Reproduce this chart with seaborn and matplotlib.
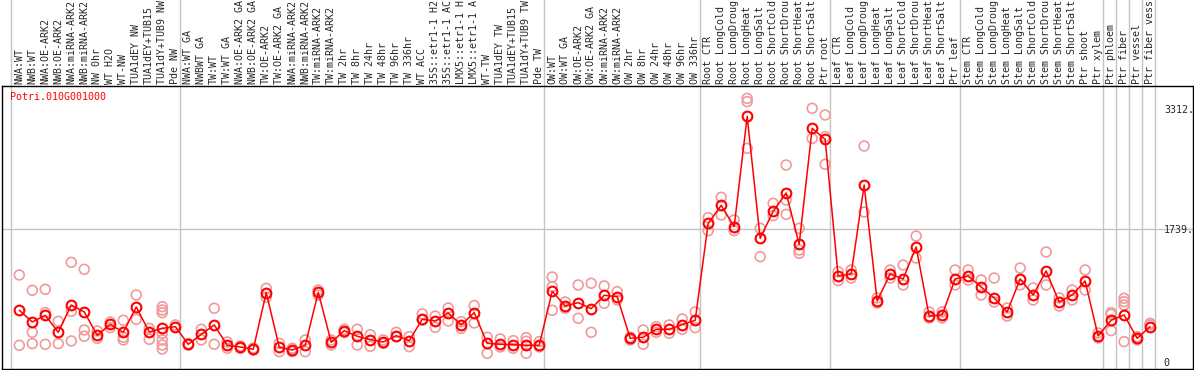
import pandas as pd
import matplotlib
matplotlib.use("Agg")
import matplotlib.pyplot as plt
import seaborn as sns

# ------------------------------
# data
# ------------------------------
gene = "Potri.010G001000"

labels = [
    "NWA:WT", "NWB:WT", "NWA:OE-ARK2", "NWB:OE-ARK2", "NWA:miRNA-ARK2", "NWB:miRNA-ARK2",
    "NW 0hr", "WT H2O", "WT-NW", "TUA1dEY NW", "TUA1dEY+TUB15", "TUA1dY+TUB9 NW", "Pde NW",
    "NWA:WT GA", "NWBWT GA", "TW:WT", "TW:WT GA", "NWA:OE-ARK2 GA", "NWB:OE-ARK2 GA",
    "TW:OE-ARK2", "TW:OE-ARK2 GA", "NWA:miRNA-ARK2", "NWB:miRNA-ARK2", "TW:miRNA-ARK2",
    "TW:miRNA-ARK2", "TW 2hr", "TW 8hr", "TW 24hr", "TW 48hr", "TW 96hr", "TW 336hr",
    "WT ACC", "35S::etr1-1 H2", "35S::etr1-1 AC", "LMX5::etr1-1 H", "LMX5::etr1-1 A",
    "WT-TW", "TUA1dEY TW", "TUA1dEY+TUB15", "TUA1dY+TUB9 TW", "Pde TW",
    "OW:WT", "OW:WT GA", "OW:OE-ARK2", "OW:OE-ARK2 GA", "OW:miRNA-ARK2", "OW:miRNA-ARK2",
    "OW 2hr", "OW 8hr", "OW 24hr", "OW 48hr", "OW 96hr", "OW 336hr",
    "Root CTR", "Root LongCold", "Root LongDroug", "Root LongHeat", "Root LongSalt",
    "Root ShortCold", "Root ShortDrou", "Root ShortHeat", "Root ShortSalt", "Ptr root",
    "Leaf CTR", "Leaf LongCold", "Leaf LongDroug", "Leaf LongHeat", "Leaf LongSalt",
    "Leaf ShortCold", "Leaf ShortDrou", "Leaf ShortHeat", "Leaf ShortSalt", "Ptr leaf",
    "Stem CTR", "Stem LongCold", "Stem LongDroug", "Stem LongHeat", "Stem LongSalt",
    "Stem ShortCold", "Stem ShortDrou", "Stem ShortHeat", "Stem ShortSalt", "Ptr shoot",
    "Ptr xylem", "Ptr phloem", "Ptr fiber", "Ptr vessel", "Ptr fiber vess",
]

# number of samples in each study block (separated by grey lines)
group_sizes = [13, 28, 12, 10, 10, 11, 1, 1, 1, 1]

means = [
    676, 523, 610, 388, 745, 654, 349, 492, 388, 719, 392, 440, 462,
    231, 362, 484, 218, 196, 166, 907, 192, 157, 218, 911, 257, 410, 336, 292,
    261, 344, 279, 558, 536, 641, 484, 645, 244, 231, 227, 218, 218,
    924, 732, 776, 697, 872, 854, 309, 323, 427, 427, 488, 545,
    1813, 2048, 1770, 3212, 1617, 1970, 2210, 1539, 3055, 2911,
    1124, 1151, 2314, 798, 1151, 1085, 1504, 601, 615, 1085,
    1124, 981, 837, 654, 1085, 876, 1190, 785, 876, 1059,
    340, 545, 615, 309, 462,
]

reps = [
    [1138, 218], [937, 388, 240], [950, 645, 231], [532, 240], [1303, 662, 275],
    [1212, 418, 336], [405, 309], [523, 449], [545, 323, 288], [876, 558],
    [440, 296], [723, 680, 645, 375, 288, 222, 170], [484],
    [240, 222], [427, 288], [702, 231], [261, 179], [209, 179], [183, 157],
    [963, 846], [244, 135], [179, 135], [288, 135], [941, 876], [288, 222],
    [427, 384], [427, 222], [357, 205], [288, 244], [388, 331], [331, 200],
    [628, 549], [601, 453], [706, 536], [527, 440], [737, 510], [323, 113],
    [301, 196], [279, 179], [318, 270, 113], [266, 196],
    [1111, 985, 676], [785, 702], [1007, 571], [1029, 388], [994, 767], [920, 811],
    [323, 288], [418, 231], [462, 388], [484, 375], [562, 427], [654, 449],
    [1887, 1717], [2153, 1922], [1857, 1717], [3447, 3404, 2794], [1748, 1377],
    [2075, 1913], [2576, 2118, 1931], [1748, 1464, 1421], [3317, 2924],
    [3230, 2946, 2585],
    [1181, 1063], [1203, 1098], [2824, 1961], [837, 771], [1203, 1098],
    [1268, 1007], [1647, 1360], [654, 575], [654, 575], [1203, 1007],
    [1203, 1072], [1072, 876], [1098, 785], [706, 601], [1229, 1007],
    [968, 811], [1438, 1007], [837, 732], [941, 811], [1203, 941],
    [379, 314], [645, 623, 410], [832, 789, 745, 266], [331, 288], [506, 484],
]

y_ticks = [0, 1739, 3312]
y_tick_labels = ["0", "1739.", "3312."]

# ------------------------------
# build tables
# ------------------------------
mean_df = pd.DataFrame({"sample": range(len(means)), "value": means})
rep_df = pd.DataFrame(
    [(i, v) for i, vals in enumerate(reps) for v in vals], columns=["sample", "value"]
)

# ------------------------------
# plot
# ------------------------------
sns.set_theme(style="white")
plt.rcParams["font.family"] = ["DejaVu Sans Mono"]

fig = plt.figure(figsize=(11.94, 3.70), dpi=100)
ax = fig.add_axes([2 / 1194, 1 / 370, 1191 / 1194, 283 / 370])

grey = "#c4c4c4"

# group separators, running up through the label strip
edge = -0.5
for size in [0] + group_sizes:
    edge += size
    ax.axvline(edge - 0.13, ymin=0, ymax=1.31, color=grey, lw=1, clip_on=False, zorder=0)

ax.axhline(y_ticks[1], color=grey, lw=1, zorder=0)

sns.scatterplot(data=rep_df, x="sample", y="value", ax=ax, marker="o", s=50,
                facecolor="none", edgecolor="#f09a9a", linewidth=1.2, zorder=2)
sns.lineplot(data=mean_df, x="sample", y="value", ax=ax, color="#ff0000", lw=1.1,
             marker="o", markersize=7, markerfacecolor="none",
             markeredgecolor="#ff0000", markeredgewidth=1.5, zorder=3)

ax.set_xlim(-1.33, len(means) - 1 + 3.3)
ax.set_ylim(-92, 3609)
ax.set_xlabel("")
ax.set_ylabel("")

ax.xaxis.tick_top()
ax.set_xticks(range(len(labels)))
ax.set_xticklabels(labels, rotation=90, fontsize=7.2)
ax.tick_params(axis="x", length=0, pad=1.5)

ax.yaxis.tick_right()
ax.set_yticks(y_ticks)
ax.set_yticklabels(y_tick_labels, fontsize=7.2)
ax.tick_params(axis="y", length=0, pad=-21)

for s in ax.spines.values():
    s.set_color("black")
    s.set_linewidth(1)

ax.text(0.0067, 0.962, gene, transform=ax.transAxes, color="#ff0000",
        fontsize=7.2, va="center", ha="left")

fig.savefig("out.png", dpi=100)
